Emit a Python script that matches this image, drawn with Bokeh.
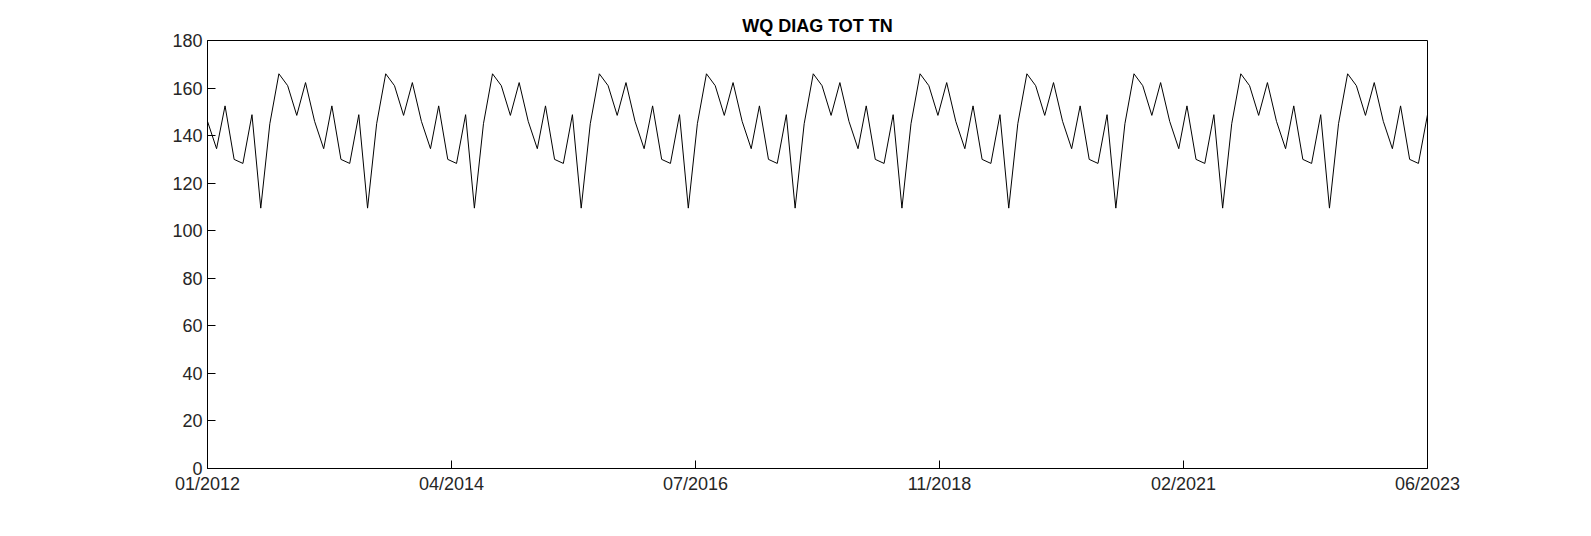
import numpy as np, pandas as pd
from bokeh.plotting import figure
from bokeh.models import FixedTicker, CustomJSTickFormatter, Range1d
from bokeh.embed import file_html
from bokeh.resources import INLINE

yearly = [146, 134.5, 152.5, 130, 128.3, 148.8, 109.5, 145, 166, 161, 148.5, 162.3]
dates = pd.date_range("2012-01-01", "2023-06-01", freq="MS")
values = [yearly[d.month - 1] for d in dates]
tick_labels = ["01/2012", "04/2014", "07/2016", "11/2018", "02/2021", "06/2023"]

x = dates.values.astype("datetime64[ms]").astype(np.int64).astype(float)
ticks = list(np.linspace(x[0], x[-1], len(tick_labels)))

p = figure(width=1575, height=520, output_backend="svg", toolbar_location=None,
           x_axis_type="datetime", min_border_left=207, min_border_right=148,
           min_border_top=40, min_border_bottom=52, title="WQ DIAG TOT TN")
p.line(x, values, color="black", line_width=1)
p.x_range = Range1d(x[0], x[-1])
p.y_range = Range1d(0, 180)
p.xaxis.ticker = FixedTicker(ticks=ticks)
p.xaxis.formatter = CustomJSTickFormatter(args=dict(t=ticks, l=tick_labels),
    code="let b=0,d=1e30;for(let i=0;i<t.length;i++){const e=Math.abs(t[i]-tick);if(e<d){d=e;b=i}}return l[b];")
p.yaxis.ticker = FixedTicker(ticks=list(range(0, 181, 20)))
p.xgrid.visible = False
p.ygrid.visible = False
p.outline_line_color = "black"
p.outline_line_alpha = 1
for ax in (p.xaxis[0], p.yaxis[0]):
    ax.major_tick_in = 8
    ax.major_tick_out = 0
    ax.minor_tick_line_color = None
    ax.axis_line_color = "black"
    ax.major_tick_line_color = "black"
    ax.major_label_text_font = "Liberation Sans"
    ax.major_label_text_font_size = "18px"
    ax.major_label_text_color = "#262626"
p.title.text_font = "Liberation Sans"
p.title.text_font_size = "18px"
p.title.text_font_style = "bold"
p.title.align = "center"
p.title.text_color = "black"
open("out.html", "w").write(file_html(p, INLINE))
